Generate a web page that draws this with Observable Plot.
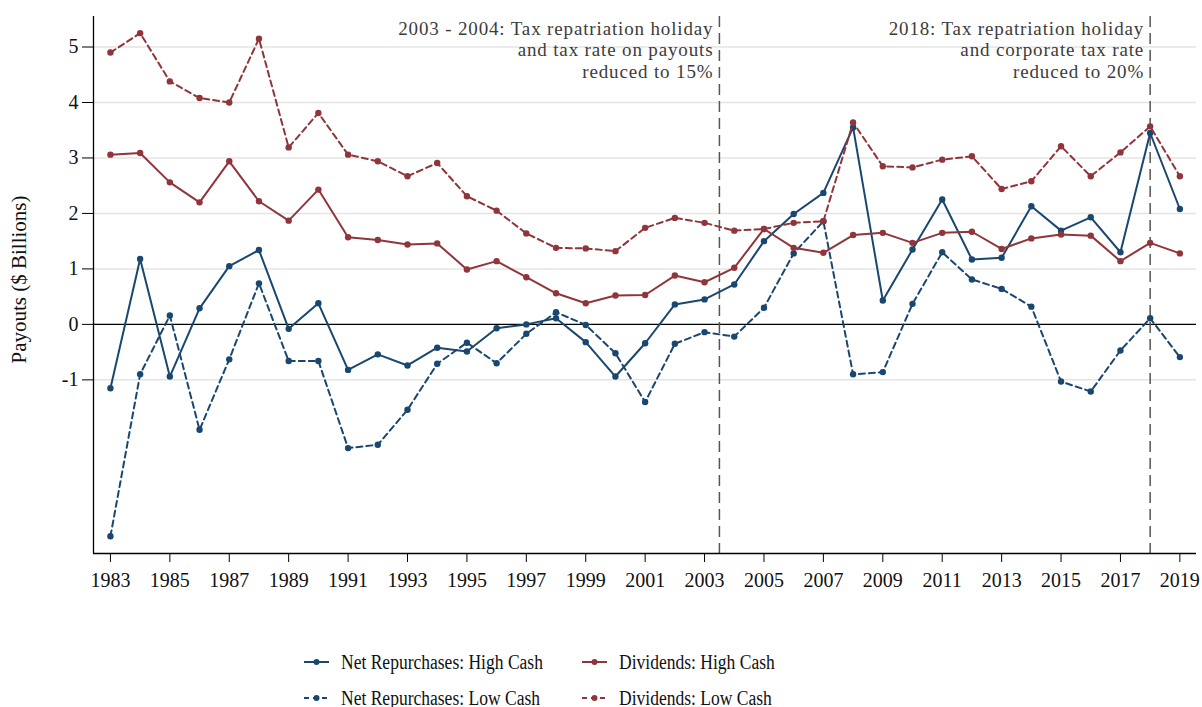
<!DOCTYPE html>
<html><head><meta charset="utf-8">
<script src="https://cdn.jsdelivr.net/npm/d3@7"></script>
<script src="https://cdn.jsdelivr.net/npm/@observablehq/plot@0.6"></script>
<style>
body{margin:0;background:#fff;font-family:"Liberation Serif","Times New Roman",serif;}
#wrap{width:1202px;height:707px;overflow:hidden;background:#fff}
#legend{position:relative;width:1202px;height:77px;font-size:20px;color:#111}
.item{position:absolute;display:flex;align-items:center;white-space:nowrap}
.item svg{margin-right:12px;flex:none}
.item span{display:inline-block;transform:scaleX(0.876);transform-origin:left center}
</style></head><body>
<div id="wrap"><div id="chart"></div><div id="legend"></div></div>
<script>
const years = [1983,1984,1985,1986,1987,1988,1989,1990,1991,1992,1993,1994,1995,1996,1997,1998,1999,2000,2001,2002,2003,2004,2005,2006,2007,2008,2009,2010,2011,2012,2013,2014,2015,2016,2017,2018,2019];
const netRepHigh = [-1.15,1.18,-0.94,0.29,1.05,1.34,-0.08,0.38,-0.82,-0.54,-0.74,-0.42,-0.49,-0.07,0.00,0.11,-0.32,-0.94,-0.34,0.36,0.45,0.72,1.50,1.99,2.37,3.55,0.43,1.35,2.25,1.17,1.20,2.13,1.69,1.93,1.30,3.45,2.08];
const netRepLow = [-3.82,-0.90,0.16,-1.90,-0.63,0.74,-0.66,-0.66,-2.23,-2.17,-1.54,-0.71,-0.33,-0.70,-0.17,0.22,-0.01,-0.52,-1.40,-0.35,-0.14,-0.22,0.30,1.28,1.86,-0.90,-0.86,0.37,1.30,0.81,0.64,0.32,-1.03,-1.21,-0.47,0.11,-0.59];
const divHigh = [3.06,3.09,2.56,2.20,2.94,2.22,1.87,2.43,1.57,1.52,1.44,1.46,0.99,1.14,0.85,0.56,0.38,0.52,0.53,0.88,0.76,1.02,1.72,1.38,1.29,1.61,1.65,1.47,1.65,1.67,1.36,1.55,1.62,1.60,1.14,1.47,1.28];
const divLow = [4.90,5.25,4.38,4.08,4.00,5.15,3.19,3.81,3.06,2.94,2.67,2.91,2.31,2.05,1.64,1.38,1.37,1.32,1.74,1.92,1.83,1.69,1.72,1.83,1.86,3.64,2.85,2.83,2.97,3.03,2.44,2.58,3.21,2.67,3.10,3.57,2.67];

const seriesNames = ["Net Repurchases: High Cash","Net Repurchases: Low Cash","Dividends: High Cash","Dividends: Low Cash"];
const seriesColors = ["#1a476f","#1a476f","#90353b","#90353b"];
const seriesDashed = [false,true,false,true];
const seriesValues = [netRepHigh,netRepLow,divHigh,divLow];

const yTicks = [-1,0,1,2,3,4,5];
const xTicks = [1983,1985,1987,1989,1991,1993,1995,1997,1999,2001,2003,2005,2007,2009,2011,2013,2015,2017,2019];
const eventYears = [2003.5, 2018];
const eventNotes = ["2003 - 2004: Tax repatriation holiday\nand tax rate on payouts\nreduced to 15%",
                    "2018: Tax repatriation holiday\nand corporate tax rate\nreduced to 20%"];
const yLabel = ["Payouts ($ Billions)"];

const xDomain = [1982.43, 2019.56];
const yDomain = [-4.13, 5.55];

const notes = eventYears.map((x,i)=>({x, text:eventNotes[i]}));
const seriesMarks = [];
seriesNames.forEach((name,i)=>{
  const data = years.map((yr,j)=>({year:yr, value:seriesValues[i][j]}));
  seriesMarks.push(Plot.line(data,{x:"year",y:"value",stroke:seriesColors[i],strokeWidth:2,strokeDasharray:seriesDashed[i]?"6,4":null}));
  seriesMarks.push(Plot.dot(data,{x:"year",y:"value",fill:seriesColors[i],r:3.2,stroke:"none"}));
});
const chart = Plot.plot({
  width:1202, height:630,
  marginLeft:93, marginRight:6, marginTop:16, marginBottom:77,
  style:{fontFamily:"'Liberation Serif','Times New Roman',serif", fontSize:"20px", color:"#111", background:"white"},
  x:{domain:xDomain},
  y:{domain:yDomain},
  marks:[
    Plot.gridY(yTicks.filter(d=>d!==0),{stroke:"#e4e4e4",strokeOpacity:1,strokeWidth:1.5}),
    Plot.ruleY([0],{stroke:"#000",strokeWidth:1.2}),
    Plot.ruleX(eventYears,{stroke:"#555",strokeDasharray:"11,6",strokeWidth:1.5}),
    Plot.text(notes,{x:"x",text:"text",frameAnchor:"top",textAnchor:"end",lineAnchor:"top",dx:-6,dy:3,fontSize:19,lineHeight:1.13,fill:"#3c3c3c",className:"note"}),
    ...seriesMarks,
    Plot.ruleX([xDomain[0]],{stroke:"#000",strokeWidth:1.3}),
    Plot.ruleY([yDomain[0]],{stroke:"#000",strokeWidth:1.3}),
    Plot.axisX({ticks:xTicks,tickFormat:d=>String(d),tickSize:9,tickPadding:10,fontSize:20,label:null,stroke:"#000"}),
    Plot.axisY({ticks:yTicks,tickFormat:d=>String(d),tickSize:11,tickPadding:4,fontSize:20,label:null,stroke:"#000"}),
    Plot.text(yLabel,{text:d=>d,frameAnchor:"left",rotate:-90,dx:-74,dy:-5.5,fontSize:21,fill:"#111",textAnchor:"middle",lineAnchor:"middle"})
  ]
});
d3.select(chart).selectAll(".note text").attr("letter-spacing","0.85px");
document.getElementById("chart").appendChild(chart);

// legend
const legend = document.getElementById("legend");
const legendPos = [[304,32],[304,68],[582,32],[582,68]];
seriesNames.forEach((name,i)=>{
  const div = document.createElement("div");
  div.className="item";
  div.style.left = legendPos[i][0]+"px";
  div.style.top = (legendPos[i][1]-12)+"px";
  div.style.height="24px";
  const dash = seriesDashed[i] ? 'stroke-dasharray="5,4"' : '';
  div.innerHTML = `<svg width="25" height="10"><line x1="0" y1="5" x2="25" y2="5" stroke="${seriesColors[i]}" stroke-width="2" ${dash}/><circle cx="12.5" cy="5" r="3" fill="${seriesColors[i]}"/></svg><span>${name}</span>`;
  legend.appendChild(div);
});
</script></body></html>
